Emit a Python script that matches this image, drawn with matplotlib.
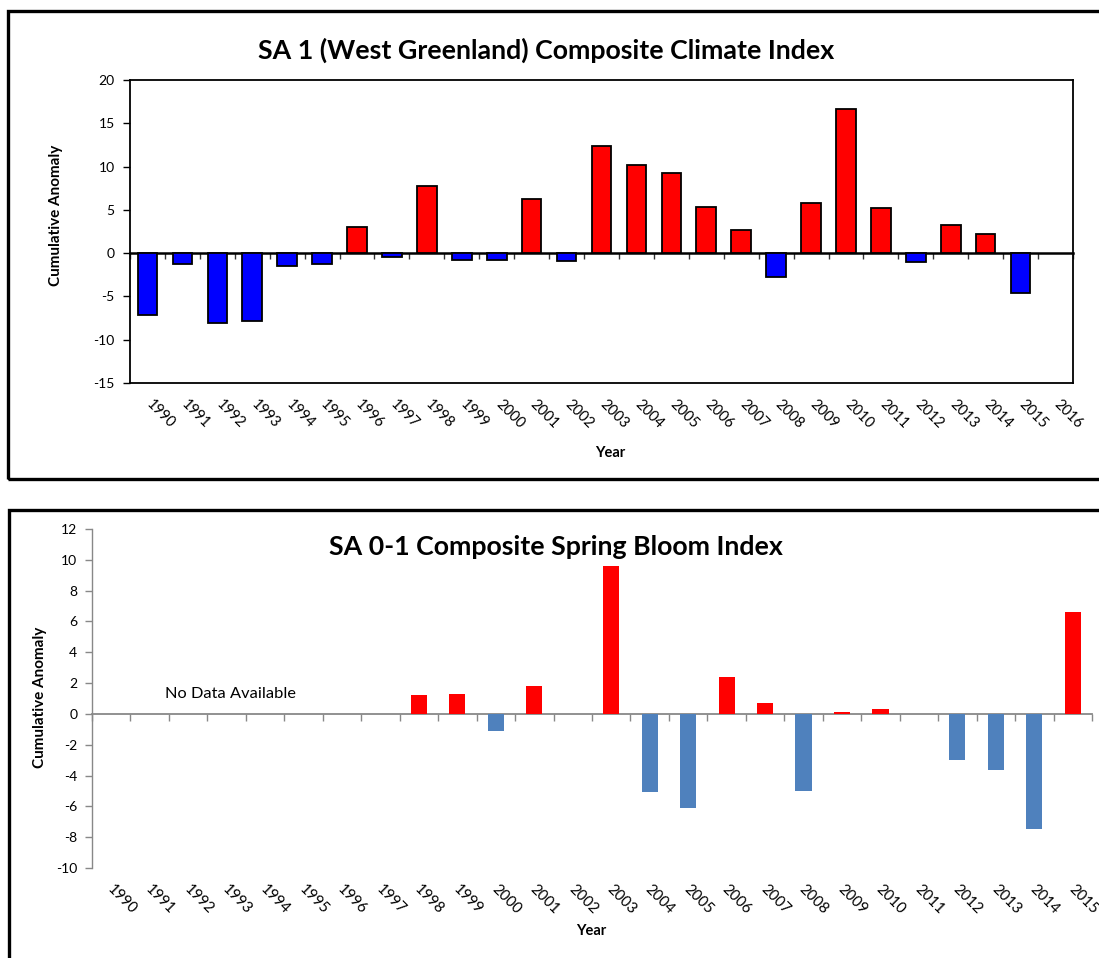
import matplotlib
matplotlib.use("Agg")
import matplotlib.pyplot as plt
import matplotlib.patches as mpatches
from matplotlib.transforms import ScaledTranslation
import numpy as np

plt.rcParams['font.family'] = ['Lato', 'DejaVu Sans']
plt.rcParams['axes.unicode_minus'] = False

# ---------------- data ----------------
years_top = [str(y) for y in range(1990, 2017)]
climate_index = [-7.2, -1.3, -8.1, -7.8, -1.5, -1.3, 3.0, -0.5, 7.7, -0.8,
                 -0.8, 6.2, -0.9, 12.4, 10.2, 9.2, 5.3, 2.7, -2.7, 5.8,
                 16.7, 5.2, -1.0, 3.2, 2.2, -4.6, np.nan]

years_bot = [str(y) for y in range(1990, 2016)]
bloom_index = [np.nan, np.nan, np.nan, np.nan, np.nan, np.nan, np.nan, np.nan,
               1.2, 1.3, -1.1, 1.8, np.nan, 9.6, -5.1, -6.1, 2.4, 0.7, -5.0,
               0.1, 0.3, np.nan, -3.0, -3.65, -7.5, 6.6]

top_title = "SA 1 (West Greenland) Composite Climate Index"
bot_title = "SA 0-1 Composite Spring Bloom Index"
ylabel = "Cumulative Anomaly"
xlabel = "Year"
note = "No Data Available"

top_yticks = list(range(-15, 21, 5))
bot_yticks = list(range(-10, 13, 2))

# ---------------- figure ----------------
W, H = 1099, 958
fig = plt.figure(figsize=(W / 100, H / 100), dpi=100)

def fx(px):
    return px / W

def fy(py):
    return 1 - py / H

# outer frames
fig.patches.append(mpatches.Rectangle((fx(8), fy(479)), fx(1200) - fx(8), fy(11) - fy(479),
                                      transform=fig.transFigure, fill=False,
                                      edgecolor='black', linewidth=2.4, clip_on=False))
fig.patches.append(mpatches.Rectangle((fx(9), fy(1100)), fx(1200) - fx(9), fy(510) - fy(1100),
                                      transform=fig.transFigure, fill=False,
                                      edgecolor='black', linewidth=2.4, clip_on=False))

def pos_axes(l, t, r, b):
    return fig.add_axes([fx(l), fy(b), fx(r) - fx(l), fy(t) - fy(b)])

def style_xlabels(ax, dx_px):
    off = ScaledTranslation(dx_px / 100, 0, fig.dpi_scale_trans)
    for lab in ax.get_xticklabels():
        lab.set_rotation(-45)
        lab.set_ha('left')
        lab.set_va('top')
        lab.set_transform(lab.get_transform() + off)

# ---------------- top chart ----------------
ax1 = pos_axes(130, 80, 1073, 383)
x1 = np.arange(len(years_top))
vals1 = np.array(climate_index, dtype=float)
cols1 = ['#FF0000' if v > 0 else '#0000FF' for v in np.nan_to_num(vals1)]
ax1.bar(x1, vals1, width=0.56, color=cols1, edgecolor='black', linewidth=1.3, zorder=3)
ax1.set_xlim(-0.5, len(years_top) - 0.5)
ax1.set_ylim(top_yticks[0], top_yticks[-1])
ax1.set_yticks(top_yticks)
ax1.tick_params(axis='y', direction='out', length=5, width=1, labelsize=10, pad=6)
ax1.set_xticks(x1)
ax1.set_xticklabels(years_top)
ax1.tick_params(axis='x', length=0, labelsize=10.5, pad=10.5)
style_xlabels(ax1, -4)
for s in ax1.spines.values():
    s.set_linewidth(1.3)
# zero axis with boundary ticks
z1 = (0 - top_yticks[0]) / (top_yticks[-1] - top_yticks[0])
sec1 = ax1.secondary_xaxis(z1)
sec1.set_xticks(np.arange(-0.5, len(years_top), 1.0))
sec1.tick_params(axis='x', direction='out', length=4, width=1, labelbottom=False, color='#333333')
sec1.spines['bottom'].set_linewidth(1.8)
sec1.spines['bottom'].set_zorder(4)
ax1.set_zorder(2)

fig.text(fx(546), fy(50), top_title, ha='center', va='center',
         fontsize=19.3, fontweight='bold')
fig.text(fx(56), fy(215), ylabel, ha='center', va='center', rotation=90,
         fontsize=11, fontweight='bold')
fig.text(fx(610), fy(453), xlabel, ha='center', va='center',
         fontsize=10.5, fontweight='bold')

# ---------------- bottom chart ----------------
ax2 = pos_axes(92, 529, 1092, 868)
x2 = np.arange(len(years_bot))
vals2 = np.array(bloom_index, dtype=float)
cols2 = ['#FF0000' if v > 0 else '#4F81BD' for v in np.nan_to_num(vals2)]
ax2.bar(x2, vals2, width=0.42, color=cols2, edgecolor='none', zorder=3)
ax2.set_xlim(-0.5, len(years_bot) - 0.5)
ax2.set_ylim(bot_yticks[0], bot_yticks[-1])
ax2.set_yticks(bot_yticks)
ax2.tick_params(axis='y', direction='out', length=5, width=1, color='#888888',
                labelsize=10, pad=5.5)
ax2.set_xticks(x2)
ax2.set_xticklabels(years_bot)
ax2.tick_params(axis='x', length=0, labelsize=10.8, pad=10.5)
style_xlabels(ax2, -7)
for side in ['top', 'right', 'bottom']:
    ax2.spines[side].set_visible(False)
ax2.spines['left'].set_color('#888888')
ax2.spines['left'].set_linewidth(1.0)
z2 = (0 - bot_yticks[0]) / (bot_yticks[-1] - bot_yticks[0])
sec2 = ax2.secondary_xaxis(z2)
sec2.set_xticks(np.arange(-0.5, len(years_bot), 1.0))
sec2.tick_params(axis='x', direction='out', length=5, width=1, color='#888888',
                 labelbottom=False)
sec2.spines['bottom'].set_color('#888888')
sec2.spines['bottom'].set_linewidth(1.3)

ax2.text(fx(165), fy(694), note, transform=fig.transFigure, ha='left', va='center',
         fontsize=11.8)
fig.text(fx(556), fy(547), bot_title, ha='center', va='center',
         fontsize=19.3, fontweight='bold')
fig.text(fx(40), fy(697), ylabel, ha='center', va='center', rotation=90,
         fontsize=11, fontweight='bold')
fig.text(fx(591), fy(931), xlabel, ha='center', va='center',
         fontsize=10.5, fontweight='bold')

fig.savefig("out.png", dpi=100)
